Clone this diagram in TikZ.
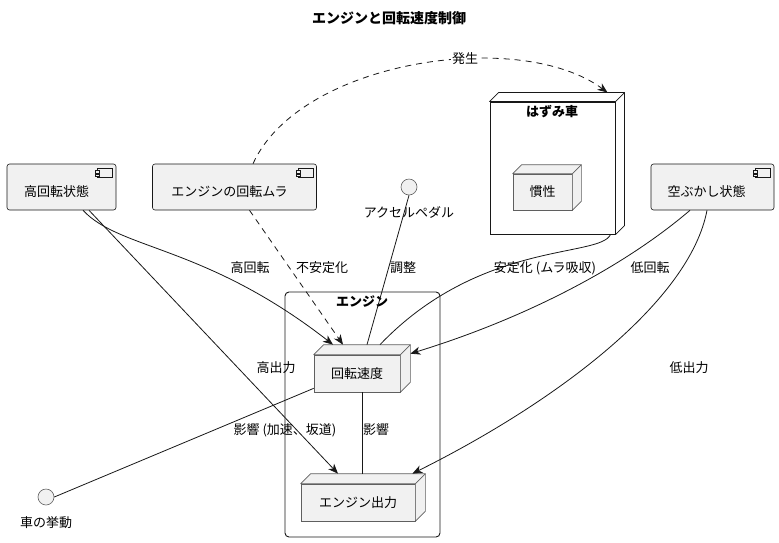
\documentclass[tikz,border=0pt]{standalone}
\usepackage{fontspec}
\setmainfont{Noto Sans CJK JP}
\usetikzlibrary{arrows.meta}
\definecolor{nfill}{HTML}{F1F1F1}
\definecolor{nline}{HTML}{181818}
\definecolor{gline}{HTML}{5F5F5F}
\newcommand\depthbox[4]{% name, depth, fill, draw
  \draw[draw=#4, fill=#3, line width=0.7pt, line join=round] (#1.north west) -- ++(#2pt,#2pt) -- ([shift={(#2pt,#2pt)}]#1.north east) -- ([shift={(#2pt,#2pt)}]#1.south east) -- (#1.south east) -- (#1.north east) -- cycle;
  \draw[draw=#4, line width=0.7pt] (#1.north east) -- ++(#2pt,#2pt);}
\newcommand\compicon[1]{%
  \draw[nline, line width=0.5pt, fill=nfill] ([shift={(-19pt,-5pt)}]#1.north east) rectangle ([shift={(-4pt,-14pt)}]#1.north east);
  \draw[nline, line width=0.5pt, fill=nfill] ([shift={(-21pt,-7pt)}]#1.north east) rectangle ([shift={(-17pt,-9.5pt)}]#1.north east);
  \draw[nline, line width=0.5pt, fill=nfill] ([shift={(-21pt,-10.5pt)}]#1.north east) rectangle ([shift={(-17pt,-13pt)}]#1.north east);}
\tikzset{
  txt/.style={font=\fontsize{13}{15}\selectfont, inner sep=1pt, text=black},
  btxt/.style={font=\fontsize{13}{15}\selectfont\bfseries, inner sep=1pt, text=black},
  comp/.style={draw=nline, fill=nfill, rounded corners=2.5pt, minimum width=#1, minimum height=46pt, inner sep=0pt, line width=0.6pt},
  cube/.style n args={2}{draw=gline, fill=nfill, minimum width=#1, minimum height=#2, inner sep=0pt, line width=0.7pt, font=\fontsize{13}{15}\selectfont},
  iface/.style={circle, draw=gline, fill=nfill, minimum size=16pt, inner sep=0pt, line width=0.6pt},
  conn/.style={draw=nline, line width=0.8pt},
  arr/.style={-{Stealth[length=10pt,width=8pt,inset=3pt]}},
  dsh/.style={dash pattern=on 6pt off 5pt},
}
\begin{document}
\begin{tikzpicture}[x=1pt,y=-1pt]
\useasboundingbox (0,0) rectangle (779,542);
\fill[white] (0,0) rectangle (779,542);
\node[btxt, font=\fontsize{14}{16}\selectfont\bfseries] (title) at (389,18) {エンジンと回転速度制御};

% engine frame
\node[draw=nline, rounded corners=4pt, line width=0.9pt, minimum width=155pt, minimum height=245pt, inner sep=0pt] (eng) at (362.5,414.5) {};
\node[btxt] (engt) at (362,302) {エンジン};

% flywheel
\node[draw=nline, fill=white, line width=1pt, minimum width=125pt, minimum height=132pt, inner sep=0pt] (fly) at (552.5,168) {};
\depthbox{fly}{9}{white}{nline}
\node[btxt] (flyt) at (552,112) {はずみ車};
\node[cube={59pt}{36pt}] (kansei) at (542.5,192) {慣性};
\depthbox{kansei}{9}{nfill}{gline}

% components
\node[comp=109pt] (hi) at (61.5,187) {};
\compicon{hi}
\node[txt] (hit) at ([shift={(-5pt,-5pt)}]hi.center) {高回転状態};
\node[comp=164pt] (mura) at (234.5,187) {};
\compicon{mura}
\node[txt] (murat) at ([shift={(-5pt,-5pt)}]mura.center) {エンジンの回転ムラ};
\node[comp=123pt] (kara) at (712.5,187) {};
\compicon{kara}
\node[txt] (karat) at ([shift={(-6pt,-5pt)}]kara.center) {空ぶかし状態};

% interfaces
\node[iface] (pedal) at (409,187) {};
\node[txt] (pedalt) at (409,212) {アクセルペダル};
\node[iface] (kyodo) at (46,497) {};
\node[txt] (kyodot) at (46,523) {車の挙動};

% engine parts
\node[cube={86pt}{37pt}] (kaiten) at (357,373.5) {回転速度};
\depthbox{kaiten}{10}{nfill}{gline}
\node[cube={114pt}{37pt}] (out) at (358,502.5) {エンジン出力};
\depthbox{out}{10}{nfill}{gline}

% connectors
\draw[conn, arr] ([xshift=21.5pt]hi.south) .. controls (120,250) and (205,245) .. ([shift={(-24pt,10pt)}]kaiten.north);
\node[txt] (l1) at (250,268) {高回転};
\draw[conn, arr] ([xshift=27.5pt]hi.south) -- ([shift={(-20pt,10pt)}]out.north);
\node[txt] (l2) at (276,368) {高出力};
\draw[conn, arr, dsh] ([xshift=15pt]mura.south) -- ([shift={(-14pt,10pt)}]kaiten.north);
\node[txt] (l3) at (322,268) {不安定化};
\draw[conn, arr, dsh] ([xshift=18.5pt]mura.north) .. controls (300,60) and (520,28) .. ([shift={(-8pt,9pt)}]fly.north east);
\node[txt, fill=white] (l4) at (465,59) {発生};
\draw[conn] (pedal.south) -- ([shift={(10pt,10pt)}]kaiten.north);
\node[txt] (l5) at (403,268) {調整};
\draw[conn] ([xshift=-5pt]fly.south east) .. controls (600,258) and (480,240) .. ([shift={(23pt,10pt)}]kaiten.north);
\node[txt] (l6) at (545,268) {安定化 (ムラ吸収)};
\draw[conn, arr] ([xshift=-22.5pt]kara.south) .. controls (620,270) and (520,320) .. ([shift={(10pt,1pt)}]kaiten.north east);
\node[txt] (l7) at (650,268) {低回転};
\draw[conn, arr] ([xshift=-5.5pt]kara.south) .. controls (690,300) and (560,400) .. ([shift={(-3pt,10pt)}]out.north east);
\node[txt] (l8) at (689,368) {低出力};
\draw[conn] ([yshift=4pt]kaiten.south west) -- (kyodo.east);
\node[txt] (l9) at (285,430) {影響 (加速、坂道)};
\draw[conn] ([xshift=5pt]kaiten.south) -- ([shift={(4pt,10pt)}]out.north);
\node[txt] (l10) at (376,430) {影響};
\end{tikzpicture}
\end{document}
